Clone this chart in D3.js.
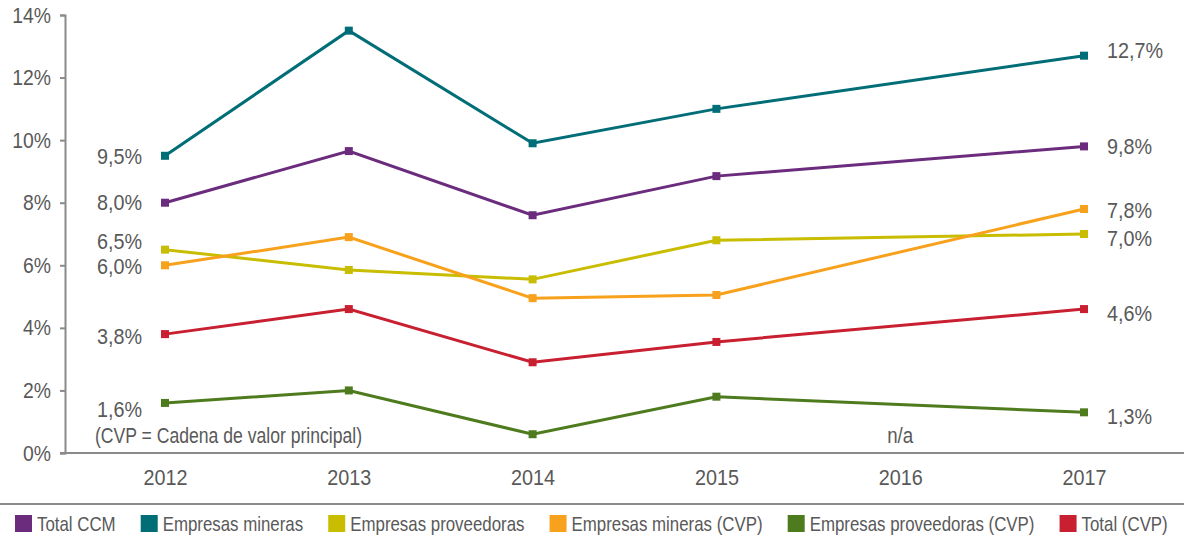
<!DOCTYPE html>
<html>
<head>
<meta charset="utf-8">
<script src="https://cdn.jsdelivr.net/npm/d3@7/dist/d3.min.js"></script>
<style>
  html, body { margin: 0; padding: 0; background: #fff; }
  svg { display: block; }
  text { font-family: "Liberation Sans", Arial, sans-serif; fill: #595959; }
</style>
</head>
<body>
<svg id="chart" width="1184" height="538"></svg>
<script>
// ---- Data ----
const years = [2012, 2013, 2014, 2015, 2016, 2017];
const yTicks = [0, 2, 4, 6, 8, 10, 12, 14];
const seriesNames = ["Total CCM", "Empresas mineras", "Empresas proveedoras", "Empresas mineras (CVP)", "Empresas proveedoras (CVP)", "Total (CVP)"];
const totalCCM = [8.0, 9.65, 7.6, 8.85, null, 9.8];
const empresasMineras = [9.5, 13.5, 9.9, 11.0, null, 12.7];
const empresasProveedoras = [6.5, 5.85, 5.55, 6.8, null, 7.0];
const empresasMinerasCVP = [6.0, 6.9, 4.95, 5.05, null, 7.8];
const empresasProveedorasCVP = [1.6, 2.0, 0.6, 1.8, null, 1.3];
const totalCVP = [3.8, 4.6, 2.9, 3.55, null, 4.6];
const note = "(CVP = Cadena de valor principal)";
const naLabel = "n/a";
const naYear = 2016;

// ---- Styles ----
const seriesValues = [totalCCM, empresasMineras, empresasProveedoras, empresasMinerasCVP, empresasProveedorasCVP, totalCVP];
const colors = ["#6b2c7e", "#006d77", "#c8bd00", "#f7a11c", "#4f7b1f", "#c81f31"];
const leftLabelDy = [0, 1, -8, 1, 6, 2];
const rightLabelDy = [0, -5, 4, 1, 4, 4];

const fmt = v => d3.format(".1f")(v).replace(".", ",") + "%";

// horizontally condense text (the reference uses a condensed typeface)
function condense(sel, s) {
  sel.each(function () {
    const el = d3.select(this);
    const x0 = +(el.attr("x") || 0);
    el.attr("x", x0 / s).attr("transform", `scale(${s},1)`);
  });
  return sel;
}

const svg = d3.select("#chart");
const x = d3.scalePoint().domain(years).range([165, 1084]);
const y = d3.scaleLinear().domain([0, 14]).range([453, 15]);

// Y axis
const yAxis = d3.axisLeft(y).tickValues(yTicks).tickSize(5).tickPadding(9).tickFormat(d => d + "%");
const gy = svg.append("g").attr("transform", "translate(65,0)").call(yAxis);
gy.select(".domain").attr("stroke", "#8a8a8a").attr("stroke-width", 2);
gy.selectAll(".tick line").attr("stroke", "#8a8a8a").attr("stroke-width", 2);
gy.selectAll(".tick text").attr("font-size", 22).style("fill", "#595959")
  .style("font-family", "'Liberation Sans', Arial, sans-serif");
condense(gy.selectAll(".tick text"), 0.88);

// X axis
const xAxis = d3.axisBottom(x).tickSize(0).tickPadding(16);
const gx = svg.append("g").attr("transform", "translate(0,453)").call(xAxis);
gx.select(".domain").remove();
gx.append("line").attr("x1", 60).attr("x2", 1184).attr("y1", 0).attr("y2", 0)
  .attr("stroke", "#8a8a8a").attr("stroke-width", 2);
gx.selectAll(".tick text").attr("font-size", 22).style("fill", "#595959")
  .style("font-family", "'Liberation Sans', Arial, sans-serif");
condense(gx.selectAll(".tick text"), 0.9);

// Lines & markers
const line = d3.line().x(d => x(d.year)).y(d => y(d.value));
seriesValues.forEach((vals, i) => {
  const pts = years.map((yr, j) => ({ year: yr, value: vals[j] })).filter(d => d.value != null);
  svg.append("path").datum(pts).attr("d", line)
    .attr("fill", "none").attr("stroke", colors[i]).attr("stroke-width", 3);
  svg.selectAll(null).data(pts).enter().append("rect")
    .attr("x", d => x(d.year) - 4).attr("y", d => y(d.value) - 4)
    .attr("width", 8).attr("height", 8).attr("fill", colors[i]);
  const first = pts[0], last = pts[pts.length - 1];
  condense(svg.append("text").attr("x", 142).attr("y", y(first.value) + leftLabelDy[i])
    .attr("dy", "0.35em").attr("text-anchor", "end").attr("font-size", 22).text(fmt(first.value)), 0.9);
  condense(svg.append("text").attr("x", 1107).attr("y", y(last.value) + rightLabelDy[i])
    .attr("dy", "0.35em").attr("text-anchor", "start").attr("font-size", 22).text(fmt(last.value)), 0.9);
});

// Annotations
condense(svg.append("text").attr("x", 95).attr("y", 435).attr("dy", "0.35em").attr("font-size", 22).text(note), 0.8);
condense(svg.append("text").attr("x", x(naYear)).attr("y", 435).attr("dy", "0.35em").attr("text-anchor", "middle").attr("font-size", 22).text(naLabel), 0.85);

// Legend
svg.append("line").attr("x1", 0).attr("x2", 1184).attr("y1", 504).attr("y2", 504)
  .attr("stroke", "#8a8a8a").attr("stroke-width", 2);
const legendScale = 0.843;
let lx = 15;
seriesNames.forEach((name, i) => {
  svg.append("rect").attr("x", lx).attr("y", 515).attr("width", 17).attr("height", 17).attr("fill", colors[i]);
  const t = svg.append("text").attr("x", lx + 22).attr("y", 524).attr("dy", "0.35em")
    .attr("font-size", 20).text(name);
  const w = t.node().getComputedTextLength() * legendScale;
  condense(t, legendScale);
  lx += 22 + w + 25;
});
</script>
</body>
</html>
